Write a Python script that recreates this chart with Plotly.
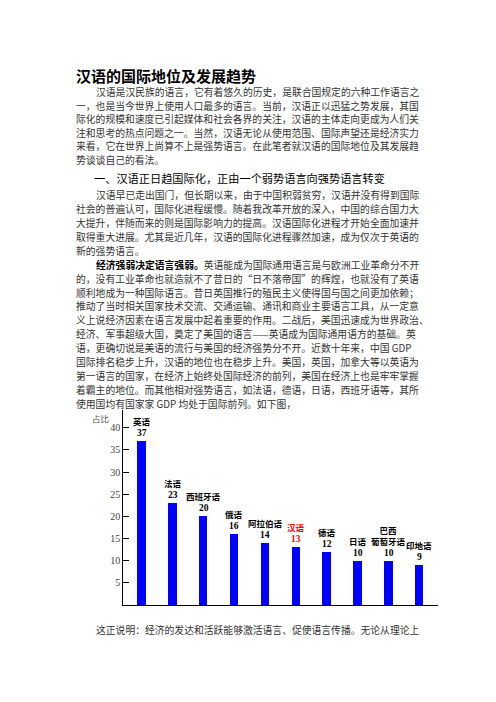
import plotly.graph_objects as go

PAGE_W, PAGE_H = 496, 702
# the page body has an 8px margin, so the figure starts at (8, 8)
BODY_MARGIN = 8

# ---- page text ----
TITLE = "汉语的国际地位及发展趋势"

PARA_1 = [
    "汉语是汉民族的语言，它有着悠久的历史，是联合国规定的六种工作语言之",
    "一，也是当今世界上使用人口最多的语言。当前，汉语正以迅猛之势发展，其国",
    "际化的规模和速度已引起媒体和社会各界的关注，汉语的主体走向更成为人们关",
    "注和思考的热点问题之一。当然，汉语无论从使用范围、国际声望还是经济实力",
    "来看，它在世界上尚算不上是强势语言。在此笔者就汉语的国际地位及其发展趋",
    "势谈谈自己的看法。",
]

HEADING_1 = "一、汉语正日趋国际化，正由一个弱势语言向强势语言转变"

PARA_2 = [
    "汉语早已走出国门，但长期以来，由于中国积弱贫穷，汉语并没有得到国际",
    "社会的普遍认可，国际化进程缓慢。随着我改革开放的深入，中国的综合国力大",
    "大提升，伴随而来的则是国际影响力的提高。汉语国际化进程才开始全面加速并",
    "取得重大进展。尤其是近几年，汉语的国际化进程骤然加速，成为仅次于英语的",
    "新的强势语言。",
]

PARA_3 = [
    "<b><span style='color:#000000'>经济强弱决定语言强弱。</span></b>英语能成为国际通用语言是与欧洲工业革命分不开",
    "的，没有工业革命也就造就不了昔日的“日不落帝国”的辉煌，也就没有了英语",
    "顺利地成为一种国际语言。昔日英国推行的殖民主义使得国与国之间更加依赖；",
    "推动了当时相关国家技术交流、交通运输、通讯和商业主要语言工具，从一定意",
    "义上说经济因素在语言发展中起着重要的作用。二战后，美国迅速成为世界政治、",
    "经济、军事超级大国，奠定了美国的语言——英语成为国际通用语方的基础。英",
    "语，更确切说是美语的流行与美国的经济强势分不开。近数十年来，中国 GDP",
    "国际排名稳步上升，汉语的地位也在稳步上升。美国，英国，加拿大等以英语为",
    "第一语言的国家，在经济上始终处国际经济的前列，美国在经济上也是牢牢掌握",
    "着霸主的地位。而其他相对强势语言，如法语，德语，日语，西班牙语等，其所",
    "使用国均有国家家 GDP 均处于国际前列。如下图，",
]

PARA_4 = ["这正说明：经济的发达和活跃能够激活语言、促使语言传播。无论从理论上"]

# ---- chart data ----
languages = ["英语", "法语", "西班牙语", "俄语", "阿拉伯语", "汉语",
             "德语", "日语", "巴西<br>葡萄牙语", "印地语"]
shares = [37, 23, 20, 16, 14, 13, 12, 10, 10, 9]
highlight = "汉语"
y_ticks = [5, 10, 15, 20, 25, 30, 35, 40]
y_title = "占比"

BODY_FONT = "Noto Sans CJK SC"
SERIF = "Liberation Serif"
TEXT_COLOR = "#333333"


def px(x):
    return (x - BODY_MARGIN) / PAGE_W


def py(y):
    return 1 - (y - BODY_MARGIN) / PAGE_H


fig = go.Figure()

fig.add_trace(go.Bar(
    x=languages, y=shares, width=0.275,
    marker=dict(color="#0000FF", line=dict(width=0)),
    hoverinfo="x+y",
))


def add_text(text, x, y, size=9.8, color=TEXT_COLOR, family=BODY_FONT):
    fig.add_annotation(
        text=text, xref="paper", yref="paper", x=px(x), y=py(y),
        xanchor="left", yanchor="middle", showarrow=False, borderpad=0,
        font=dict(family=family, size=size, color=color),
    )


LEFT, INDENT = 75, 95

# title
add_text(f"<b>{TITLE}</b>", LEFT, 76, size=15, color="#000000")

# paragraph 1
for i, line in enumerate(PARA_1):
    add_text(line, INDENT if i == 0 else LEFT, 92 + 13.6 * i)

# heading
add_text(HEADING_1, 93, 178, size=11.2, color="#000000")

# paragraphs 2 & 3 run on with the same line pitch
for i, line in enumerate(PARA_2 + PARA_3):
    first = i == 0 or i == len(PARA_2)
    add_text(line, INDENT if first else LEFT, 195 + 13.93 * i)

# text after the chart
add_text(PARA_4[0], INDENT, 630)

# bar labels: value just above the bar, name above the value
for lang, v in zip(languages, shares):
    col = "#FF0000" if lang == highlight else "#000000"
    fig.add_annotation(
        x=lang, y=v, xref="x", yref="y", text=f"<b>{v}</b>",
        showarrow=False, yanchor="bottom", yshift=2, borderpad=0,
        font=dict(family=SERIF, size=9.5, color=col),
    )
    fig.add_annotation(
        x=lang, y=v, xref="x", yref="y", text=f"<b>{lang}</b>",
        showarrow=False, yanchor="bottom", yshift=13, borderpad=0,
        font=dict(family=BODY_FONT, size=8.5, color=col),
    )

# y-axis caption
fig.add_annotation(
    text=y_title, xref="paper", yref="paper", x=px(110), y=py(417.5),
    xanchor="right", yanchor="middle", showarrow=False, borderpad=0,
    font=dict(family=BODY_FONT, size=8.5, color="#555555"),
)

fig.update_layout(
    width=PAGE_W, height=PAGE_H,
    margin=dict(l=0, r=0, t=0, b=0),
    paper_bgcolor="white", plot_bgcolor="white",
    showlegend=False, bargap=0,
    xaxis=dict(
        domain=[px(123.3), px(438)], range=[-0.6, 9.6],
        showticklabels=False, ticks="", showgrid=False, zeroline=False,
        showline=True, linecolor="#000000", linewidth=1,
        fixedrange=True,
    ),
    yaxis=dict(
        domain=[py(605), py(410)], range=[0, 44],
        tickvals=y_ticks, ticks="inside", ticklen=6, tickcolor="#000000",
        showgrid=False, zeroline=False,
        showline=True, linecolor="#000000", linewidth=1,
        tickfont=dict(family=SERIF, size=10, color="#444444"),
        fixedrange=True,
    ),
)

fig.write_html("out.html")
